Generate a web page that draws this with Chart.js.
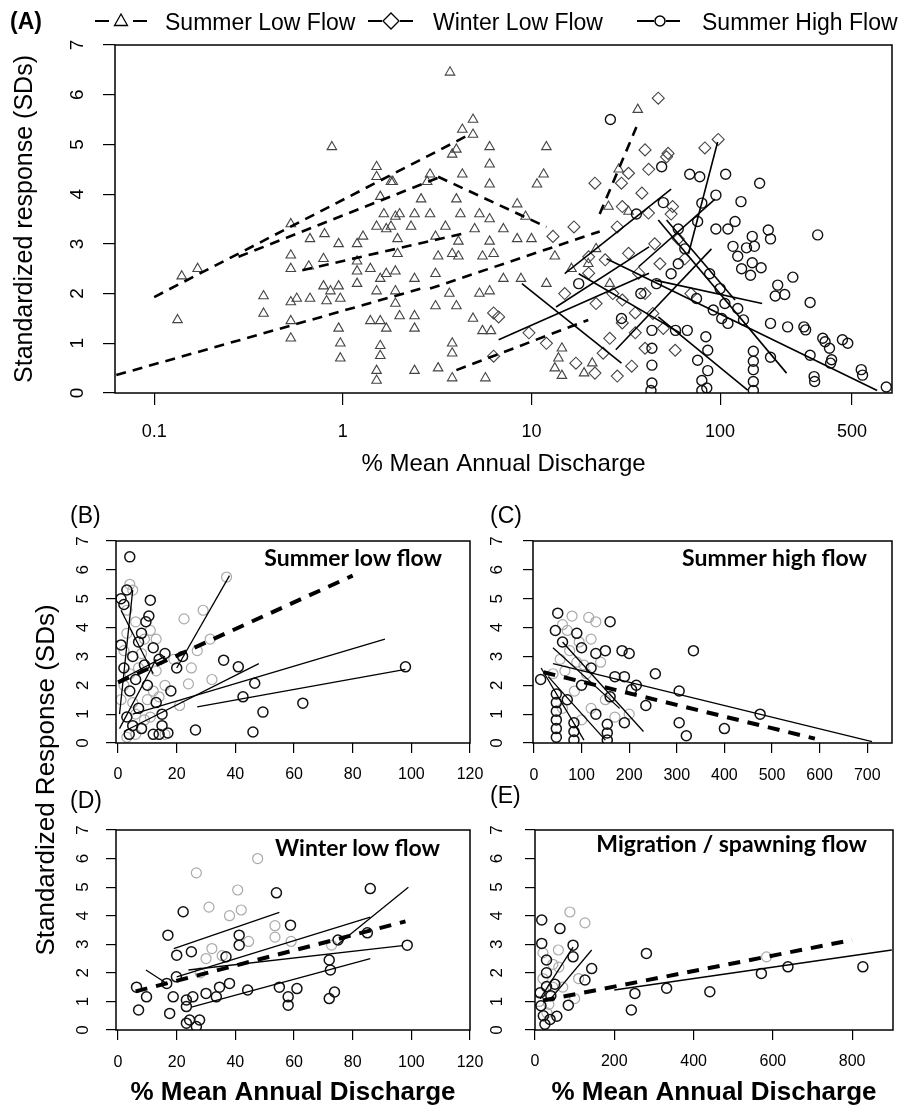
<!DOCTYPE html>
<html lang="en">
<head>
<meta charset="utf-8">
<title>Standardized response vs % mean annual discharge</title>
<script src="https://cdn.jsdelivr.net/npm/chart.js@4.4.1/dist/chart.umd.min.js"></script>
<style>
  body { margin: 0; background: #fff; }
  #fig { position: relative; width: 901px; height: 1110px; overflow: hidden;
         font-family: "Liberation Sans", Arial, sans-serif; color: #000; }
  #fig canvas { position: absolute; }
  .txt { position: absolute; white-space: nowrap; }
  .painel { font-size: 23px; line-height: 28px; }
  .leg { font-size: 23px; line-height: 28px; }
  .titulo { font-family: Lato, "Liberation Sans", sans-serif; font-weight: 700;
            font-size: 23px; line-height: 28px; text-align: right; }
  .ytit { font-size: 26px; line-height: 30px; width: 600px; text-align: center;
          transform: rotate(-90deg); }
</style>
</head>
<body>
<div id="fig">
  <canvas id="gA" width="901" height="485" style="left:0;top:0"></canvas>
  <canvas id="gC" width="421" height="290" style="left:480px;top:500px"></canvas>
  <canvas id="gB" width="500" height="290" style="left:0;top:500px"></canvas>
  <canvas id="gE" width="421" height="320" style="left:480px;top:790px"></canvas>
  <canvas id="gD" width="500" height="320" style="left:0;top:790px"></canvas>

  <!-- legenda do painel A -->
  <svg style="position:absolute;left:0;top:0" width="901" height="45">
    <g stroke="#000" stroke-width="2" fill="none">
      <line x1="95" y1="21" x2="109" y2="21"/><line x1="133" y1="21" x2="147" y2="21"/>
      <polygon points="121,14 114.5,25.5 127.5,25.5" stroke-width="1.3"/>
      <line x1="368" y1="21" x2="382" y2="21"/><line x1="400" y1="21" x2="413" y2="21"/>
      <polygon points="391,13 399,21 391,29 383,21" stroke-width="1.3"/>
      <line x1="637" y1="21" x2="654" y2="21"/><line x1="666" y1="21" x2="680" y2="21"/>
      <circle cx="660" cy="21" r="5" stroke-width="1.5"/>
    </g>
  </svg>
  <div class="txt painel" style="left:10px;top:7px;font-weight:700">(A)</div>
  <div class="txt leg" style="left:165px;top:8px">Summer Low Flow</div>
  <div class="txt leg" style="left:433px;top:8px">Winter Low Flow</div>
  <div class="txt leg" style="left:702px;top:8px">Summer High Flow</div>

  <div class="txt painel" style="left:70px;top:501px">(B)</div>
  <div class="txt painel" style="left:490px;top:501px">(C)</div>
  <div class="txt painel" style="left:70px;top:786px">(D)</div>
  <div class="txt painel" style="left:490px;top:781px">(E)</div>

  <div class="txt titulo" style="right:459px;top:543px">Summer low flow</div>
  <div class="txt titulo" style="right:34px;top:543px">Summer high flow</div>
  <div class="txt titulo" style="right:461px;top:833px">Winter low flow</div>
  <div class="txt titulo" style="right:34px;top:829px">Migration / spawning flow</div>

  <div class="txt ytit" style="left:-255px;top:765px">Standardized Response (SDs)</div>
</div>

<script>
// Marcas dos eixos
const ticksY = [0, 1, 2, 3, 4, 5, 6, 7];
const ticksXA = [0.1, 1, 10, 100, 500];
const ticksXB = [0, 20, 40, 60, 80, 100, 120];
const ticksXC = [0, 100, 200, 300, 400, 500, 600, 700];
const ticksXD = [0, 20, 40, 60, 80, 100, 120];
const ticksXE = [0, 200, 400, 600, 800];

// (A) pontos [x, y]
const aSummerLow = [
  [0.875,4.95],[0.133,1.47],[0.14,2.35],[0.17,2.5],[0.38,1.95],[0.38,1.6],[0.53,3.4],[0.53,2.77],
  [0.53,2.5],[0.53,1.83],[0.53,1.45],[0.53,1.1],[0.67,3.1],[0.8,3.2],[0.95,3.0],[0.79,2.7],
  [0.66,2.55],[0.79,2.15],[0.95,2.15],[0.57,1.9],[0.67,1.9],[0.82,1.85],[0.97,1.9],[0.86,2.05],
  [0.95,1.3],[0.97,1.0],[0.97,0.7],[1.19,3.0],[1.28,3.15],[1.19,2.65],[1.19,2.45],[1.19,2.2],
  [1.51,4.55],[1.51,4.35],[1.84,4.25],[1.58,3.95],[1.65,3.6],[1.51,3.35],[1.7,3.3],[1.9,3.55],
  [1.4,2.5],[1.58,2.3],[1.7,2.4],[1.51,2.05],[1.4,1.45],[1.58,1.45],[1.7,1.3],[1.58,0.95],
  [1.58,0.75],[1.51,0.45],[1.51,0.25],[1.95,3.1],[1.95,2.8],[1.9,2.05],[1.9,1.8],
  [3.7,6.45],[4.9,5.5],[4.3,5.3],[4.9,5.2],[4.0,4.9],[3.8,4.8],[6.0,4.95],[12,4.95],[6,4.6],
  [2.9,4.4],[2.8,4.25],[4.3,4.4],[6,4.2],[11.6,4.4],[10.7,4.2],[1.8,4.25],[2.6,3.9],[4.0,3.9],
  [4.2,3.6],[5.3,3.6],[6,3.5],[8.4,3.8],[9.3,3.55],[2.0,3.6],[2.4,3.6],[2.9,3.6],[1.8,3.35],
  [2.3,3.35],[3.1,3.15],[3.5,3.35],[5.0,3.3],[6,3.05],[7.1,3.3],[8.4,3.1],[10,3.1],[4.1,3.05],
  [3.8,2.8],[3.2,2.75],[4.1,2.75],[5.5,2.75],[6.3,2.8],[13.3,2.75],[16.3,2.5],[1.9,2.45],
  [2.4,2.3],[3.1,2.4],[7.1,2.3],[8.8,2.3],[3.67,2.0],[5.3,2.0],[6,2.05],[3.1,1.75],[4.0,1.75],
  [4.9,1.5],[5.5,1.25],[6.1,1.25],[2.0,1.55],[2.4,1.55],[2.4,1.3],[3.8,1.0],[3.8,0.8],[3.2,0.5],
  [2.4,0.45],[3.8,0.3],[5.7,0.3],[12,2.2],[13.3,0.5],[14.5,0.35],[29,4.5],[36.6,5.7],[25.6,3.75],
  [32.7,3.65],[14.5,0.9],[13.9,0.7],[20,2.6],[22,2.9],[26,2.2],[19,0.4],[21,0.6]
];
const aWinterLow = [
  [16.8,3.34],[20.1,2.74],[24.6,2.68],[32.7,2.81],[20.1,2.41],[37,2.41],[40,2.0],[30.3,1.87],
  [35.5,1.61],[30.3,1.41],[35.5,1.21],[24,0.8],[28.5,0.34],[17.2,0.6],[6.3,1.61],[6.3,0.74],
  [9.7,1.21],[38.5,4.02],[40,4.89],[32.7,4.42],[21.7,4.22],[30.3,3.75],[41.7,3.62],[13,3.15],
  [28.5,3.34],[21.7,0.4],[34,0.54],[47,5.93],[97.7,5.1],[83,4.93],[52,4.75],[30,4.22],[41.8,4.5],
  [55,3.6],[6.7,1.53],[53,4.82],[56,3.75],[57.8,0.86],[45,3.0],[48,2.6],[26,1.1],[22,1.8],
  [44,1.6],[50,1.3],[65,2.7],[60,3.1],[12,1.0],[15,2.0],[27,2.0],[70,2.0],[40,0.9]
];
const aSummerHigh = [
  [26.2,5.5],[49,4.55],[69,4.4],[78,4.35],[107,4.4],[162,4.22],[95,3.98],[129,3.85],[80,3.82],
  [50,3.83],[329,3.18],[110,3.3],[120,3.45],[148,3.15],[152,2.95],[180,3.28],[185,3.1],[76,3.45],
  [95,3.3],[117,2.95],[124,2.75],[138,2.92],[148,2.62],[165,2.52],[145,2.37],[130,2.5],[243,2.33],
  [202,2.17],[220,1.98],[196,1.95],[300,1.82],[106,1.8],[124,1.7],[133,1.47],[92,1.67],[102,1.5],
  [110,1.4],[185,1.4],[228,1.33],[278,1.33],[350,1.1],[380,0.9],[445,1.07],[300,0.76],[390,0.67],
  [560,0.47],[315,0.33],[185,0.72],[43.5,1.26],[43.5,0.9],[43.5,0.56],[43.5,0.2],[58,1.26],
  [67,1.26],[84,1.13],[86,0.86],[76,0.66],[86,0.45],[80,0.25],[150,0.84],[150,0.64],[150,0.47],
  [150,0.23],[38,2.0],[46,2.2],[17.8,2.2],[30,1.5],[60,2.6],[65,2.9],[88,2.4],[100,2.1],[75,1.9],
  [475,1.0],[385,0.6],[284,1.27],[360,1.03],[569,0.36],[317,0.23],[43,0.05],[150,0.05],[80,0.05],
  [85,0.1],[760,0.12],[60,3.3],[55,2.4],[36,3.6]
];
// (A) retas ajustadas [x1, y1, x2, y2]
const aSummerLowFits = [
  [0.1,1.93,4.7,5.2],[0.28,2.74,3.3,4.35],[0.063,0.36,2.6,2.1],[0.61,2.47,4.5,3.22],
  [3.2,4.35,12,3.34],[2.9,2.1,23,3.25],[4,0.46,20,1.47],[23,3.6,36,5.35]
];
const aSolidFits = [
  [8.9,2.2,30,0.6],[6.7,1.07,42,2.41],[15,2.4,55,4.1],[97,5.05,68,2.8],[47,3.48,225,0.4],
  [25,2.7,680,0.05],[47,1.53,140,0.06],[13.5,1.73,42,2.94],[28,0.87,90,2.9],[37,2.54,94,3.9],
  [45,2.27,167,1.8],[52,3.48,120,1.87],[17.8,2.4,62,1.2]
];

// (B) verão, vazão baixa
const bPts = [
  [4,6.45],[11,4.95],[10.5,4.4],[9.5,4.2],[36,2.87],[41,2.64],[46.6,2.07],[42.6,1.6],[49.4,1.07],
  [63,1.38],[46,0.38],[26.4,0.45],[98,2.64],[12,0.3],[14,0.3],[3.8,0.3],[8,3.8],[7,3.5],[12,3.3],
  [5,3.0],[14,2.9],[16,3.1],[2,4.8],[1,5.0],[3,5.3],[9,2.7],[6,2.2],[4,1.8],[10,2.0],[13,1.4],
  [15,1.0],[3,0.9],[7,1.2],[18,1.8],[20,2.6],[22,3.0],[1,3.4],[2,2.6],[5,0.6],[8,0.5],[17,0.35],[15,0.6]
];
const bPtsGrey = [
  [37,5.75],[22.5,4.3],[31.4,3.6],[24,2.05],[32,2.2],[29,4.6],[4,5.5],[5,5.3],[3,4.6],[6,4.2],
  [9,3.6],[13,2.5],[16,2.0],[19,2.9],[10,1.5],[12,1.8],[6,1.0],[2,2.0],[11,0.9],[21,1.3],[27,3.2],[25,2.6],
  [1,1.5],[2,3.2],[3,3.8],[4,2.4],[5,1.4],[7,2.6],[8,3.1],[9,0.8],[11,3.9],[13,3.6],[14,1.6],
  [3,0.2],[6,0.3],[16,0.3]
];
const bDashFits = [[0,2.1,80,5.8]];
const bFits = [
  [20,2.6,38,5.8],[2,0.4,48,2.75],[5,1.0,91,3.6],[27,1.25,98,2.55],[0.5,1.0,5,5.3],
  [0.5,0.5,13,2.9],[1,4.6,12,2.4],[1,2.2,16,3.0]
];

// (C) verão, vazão alta
const cPts = [
  [335,3.2],[255,2.4],[215,2.0],[205,1.85],[305,1.8],[475,1.0],[305,0.7],[320,0.25],[190,0.7],
  [185,3.2],[235,1.3],[400,0.5],[150,3.2],[130,3.1],[14,2.2],[50,4.5],[160,4.2],[45,3.9],[90,3.8],
  [60,3.5],[100,3.3],[200,3.1],[120,2.6],[170,2.3],[100,2.0],[47,0.2],[47,0.5],[47,0.8],[47,1.1],
  [47,1.4],[47,1.7],[84,0.1],[84,0.4],[84,0.7],[154,0.1],[154,0.35],[154,0.65],[70,1.5],[130,1.0],
  [160,1.6],[190,2.3]
];
const cPtsGrey = [
  [80,4.4],[115,4.35],[130,4.2],[60,4.1],[75,3.2],[90,2.8],[140,2.8],[110,2.4],[65,2.5],[150,1.5],
  [120,1.2],[170,0.9],[100,0.8],[200,1.0],[40,2.4],[55,2.9],[70,3.9],[95,3.5],[120,3.6],[85,1.8],
  [60,1.2],[105,2.7]
];
const cDashFits = [[20,2.45,590,0.15]];
const cFits = [[40,2.75,710,0.05],[60,3.5,230,0.4],[30,2.3,150,0.1],[15,2.6,105,0.1],[40,3.3,180,1.2]];

// (D) inverno, vazão baixa
const dPts = [
  [54,4.8],[22.2,4.14],[86,4.95],[17,3.32],[20,2.62],[25,2.74],[41.3,3.32],[41.3,2.97],[58.8,3.67],
  [36.8,2.56],[19.9,1.86],[16.6,1.63],[18.8,1.16],[23.3,1.05],[25.5,1.16],[6.3,1.5],[9.7,1.16],
  [7,0.7],[17.6,0.58],[23.3,0.82],[24.4,0.35],[27.8,0.35],[26.7,0.12],[23.3,0.24],[30,1.28],
  [34.6,1.5],[38,1.63],[33.5,1.16],[44.2,1.4],[55,1.5],[58,1.16],[58,0.87],[61,1.45],[72,1.1],
  [73.8,1.33],[72.4,2.1],[72,2.45],[75,3.15],[85,3.4],[98.6,2.97]
];
const dPtsGrey = [
  [47.6,6.0],[26.7,5.5],[40.8,4.9],[31,4.3],[38,4.0],[42,4.2],[53.5,3.65],[53.5,3.25],[44.5,3.1],
  [32,2.85],[35.5,2.6],[30,2.5],[72.8,2.97],[59,3.1],[28,2.0]
];
const dDashFits = [[6,1.35,98,3.8]];
const dFits = [[19,2.85,55,4.12],[9.5,2.1,17,1.6],[20,1.86,86,3.95],[75,3.0,99,5.0],[24,2.1,97,2.95],[25,0.8,86,2.5]];

// (E) migração / desova
const ePts = [
  [281,2.68],[252,1.28],[243,0.7],[332,1.46],[441,1.34],[571,1.98],[638,2.21],[827,2.21],[17,3.85],
  [17,3.03],[63,3.55],[96,2.97],[96,2.56],[126,1.75],[143,2.15],[84,0.87],[29,2.45],[29,2.0],
  [29,1.52],[13,1.3],[15,0.85],[21,0.5],[38,0.37],[55,0.48],[40,1.2],[50,1.6],[25,0.2]
];
const ePtsGrey = [
  [584,2.56],[88,4.13],[126,3.75],[59,2.8],[70,1.5],[100,1.1],[45,2.3],[35,0.9],[110,1.8],[20,2.7],
  [10,1.0],[30,0.6],[45,1.5],[20,1.8],[60,2.2]
];
const eDashFits = [[20,1.03,800,3.15]];
const eFits = [[200,1.4,900,2.8],[40,1.1,143,2.8],[13,1.1,96,2.9]];

Chart.defaults.font.family = '"Liberation Sans", Arial, sans-serif';
Chart.defaults.color = '#000';

// Converte [x, y] em objetos do Chart.js
function pontos(lista) {
  return lista.map(p => ({ x: p[0], y: p[1] }));
}

// Série só de marcadores
function serieMarcas(lista, estilo, raio, cor, esp) {
  return {
    data: pontos(lista), showLine: false, pointStyle: estilo, pointRadius: raio,
    borderColor: cor, pointBorderColor: cor, pointBackgroundColor: 'rgba(0,0,0,0)',
    pointBorderWidth: esp
  };
}

// Uma série por reta ajustada
function serieRetas(lista, largura, tracejado) {
  return lista.map(r => ({
    data: [{ x: r[0], y: r[1] }, { x: r[2], y: r[3] }],
    showLine: true, pointRadius: 0, borderColor: '#000', borderWidth: largura,
    borderDash: tracejado || [], fill: false
  }));
}

// Caixa em volta da área do gráfico
const moldura = {
  id: 'moldura',
  afterDatasetsDraw(chart) {
    const { ctx, chartArea: a } = chart;
    ctx.save();
    ctx.strokeStyle = '#000';
    ctx.lineWidth = 1.5;
    ctx.strokeRect(a.left, a.top, a.right - a.left, a.bottom - a.top);
    ctx.restore();
  }
};

function criarPainel(id, p, datasets) {
  return new Chart(document.getElementById(id), {
    type: 'scatter',
    data: { datasets },
    options: {
      responsive: false, animation: false, devicePixelRatio: 1, events: [],
      layout: { padding: { left: 0, top: p.top, right: p.right, bottom: 0 } },
      plugins: { legend: { display: false }, tooltip: { enabled: false } },
      scales: {
        x: {
          type: p.log ? 'logarithmic' : 'linear', min: p.xMin, max: p.xMax,
          afterBuildTicks: s => { s.ticks = p.xTicks.map(v => ({ value: v })); },
          afterFit: s => { s.height = p.xH; },
          ticks: { autoSkip: false, maxRotation: 0, font: { size: p.fs }, color: '#000',
                   padding: p.xPad, callback: v => String(v) },
          grid: { drawOnChartArea: false, drawTicks: true, tickLength: p.tl, color: '#000', lineWidth: 1.2 },
          border: { display: false },
          title: p.xTitle
            ? { display: true, text: p.xTitle, font: p.xTitleFont, color: '#000',
                padding: { top: 0, bottom: p.xTitlePad } }
            : { display: false }
        },
        y: {
          type: 'linear', min: 0, max: 7,
          afterBuildTicks: s => { s.ticks = ticksY.map(v => ({ value: v })); },
          afterFit: s => { s.width = p.yW; },
          ticks: { autoSkip: false, minRotation: 90, maxRotation: 90, crossAlign: 'center',
                   font: { size: p.fs + 1 }, color: '#000', padding: p.yPad },
          grid: { drawOnChartArea: false, drawTicks: true, tickLength: p.tl, color: '#000', lineWidth: 1.2 },
          border: { display: false },
          title: p.yTitle
            ? { display: true, text: p.yTitle, font: { size: 25 }, color: '#000',
                padding: { top: 10, bottom: 0 } }
            : { display: false }
        }
      }
    },
    plugins: [moldura]
  });
}

const dashA = [10, 7];
const dashB = [12, 9];

criarPainel('gA', {
  log: true, xMin: 0.062, xMax: 815, xTicks: ticksXA, top: 45, right: 9, xH: 92, yW: 115,
  fs: 18, tl: 12, xPad: 16, yPad: 20, xTitle: '% Mean Annual Discharge',
  xTitleFont: { size: 24 }, xTitlePad: 6, yTitle: 'Standardized response (SDs)'
}, [
  ...serieRetas(aSummerLowFits, 2.6, dashA),
  ...serieRetas(aSolidFits, 1.6),
  serieMarcas(aSummerHigh, 'circle', 5, '#111', 1.4),
  serieMarcas(aWinterLow, 'rectRot', 6, '#444', 1.1),
  serieMarcas(aSummerLow, 'triangle', 5.5, '#444', 1.1)
]);

criarPainel('gB', {
  xMin: -0.7, xMax: 120, xTicks: ticksXB, top: 41, right: 30, xH: 47, yW: 116,
  fs: 16, tl: 10, xPad: 12, yPad: 18
}, [
  ...serieRetas(bDashFits, 4, dashB),
  ...serieRetas(bFits, 1.3),
  serieMarcas(bPts, 'circle', 5, '#111', 1.5),
  serieMarcas(bPtsGrey, 'circle', 5, '#aaa', 1.2)
]);

criarPainel('gC', {
  xMin: -2, xMax: 752, xTicks: ticksXC, top: 41, right: 9, xH: 47, yW: 53,
  fs: 16, tl: 10, xPad: 13, yPad: 21
}, [
  ...serieRetas(cDashFits, 4, dashB),
  ...serieRetas(cFits, 1.3),
  serieMarcas(cPts, 'circle', 5, '#111', 1.5),
  serieMarcas(cPtsGrey, 'circle', 5, '#aaa', 1.2)
]);

criarPainel('gD', {
  xMin: -0.7, xMax: 120, xTicks: ticksXD, top: 40, right: 30, xH: 80, yW: 116,
  fs: 16, tl: 10, xPad: 13, yPad: 18, xTitle: '% Mean Annual Discharge',
  xTitleFont: { size: 26, weight: 'bold' }, xTitlePad: 2
}, [
  ...serieRetas(dDashFits, 4, dashB),
  ...serieRetas(dFits, 1.3),
  serieMarcas(dPts, 'circle', 5, '#111', 1.5),
  serieMarcas(dPtsGrey, 'circle', 5, '#aaa', 1.2)
]);

criarPainel('gE', {
  xMin: 0, xMax: 903, xTicks: ticksXE, top: 40, right: 8, xH: 80, yW: 55,
  fs: 16, tl: 10, xPad: 12, yPad: 23, xTitle: '% Mean Annual Discharge',
  xTitleFont: { size: 26, weight: 'bold' }, xTitlePad: 2
}, [
  ...serieRetas(eDashFits, 4, dashB),
  ...serieRetas(eFits, 1.3),
  serieMarcas(ePts, 'circle', 5, '#111', 1.5),
  serieMarcas(ePtsGrey, 'circle', 5, '#aaa', 1.2)
]);
</script>
</body>
</html>
